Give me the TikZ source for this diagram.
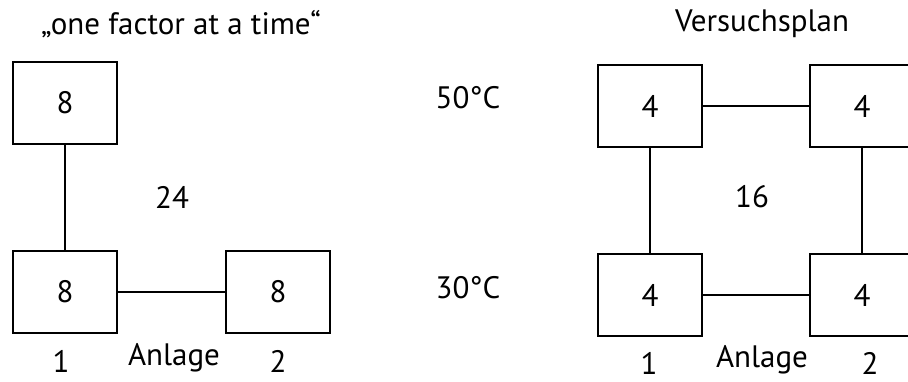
\documentclass[tikz,border=0pt]{standalone}
\usepackage{fontspec}
\setmainfont{PT Sans}
\begin{document}
\begin{tikzpicture}[x=1pt,y=-1pt,
  cell/.style={draw=black,line width=1.8pt,minimum width=104pt,minimum height=82pt,inner sep=0pt,font=\fontsize{31}{36}\selectfont},
  lbl/.style={inner sep=0pt,font=\fontsize{31}{36}\selectfont},
  conn/.style={line width=1.8pt}]
\useasboundingbox (0,0) rectangle (908,382);
% left part
\node[lbl] (t1) at (181,24) {„one factor at a time“};
\node[cell] (a) at (65,103) {8};
\node[cell] (b) at (65,292) {8};
\node[cell] (c) at (278,292) {8};
\node[lbl] (n24) at (172,197) {24};
\node[lbl] (l1) at (61,361) {1};
\node[lbl] (la) at (174,358) {Anlage};
\node[lbl] (l2) at (278,361) {2};
\draw[conn] (a) -- (b);
\draw[conn] (b) -- (c);
% middle labels
\node[lbl] (t50) at (468,98) {50°C};
\node[lbl] (t30) at (468,288) {30°C};
% right part
\node[lbl] (t2) at (762,24) {Versuchsplan};
\node[cell] (d) at (650,106) {4};
\node[cell] (e) at (862,106) {4};
\node[cell] (f) at (650,295) {4};
\node[cell] (g) at (862,295) {4};
\node[lbl] (n16) at (752,197) {16};
\node[lbl] (r1) at (649,363) {1};
\node[lbl] (ra) at (762,360) {Anlage};
\node[lbl] (r2) at (870,363) {2};
\draw[conn] (d) -- (e);
\draw[conn] (f) -- (g);
\draw[conn] (d) -- (f);
\draw[conn] (e) -- (g);
\end{tikzpicture}
\end{document}
